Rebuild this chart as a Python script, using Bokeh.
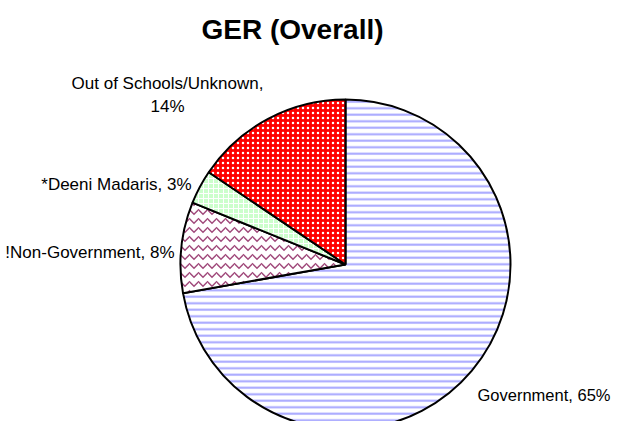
import numpy as np
from bokeh.plotting import figure
from bokeh.models import Range1d, Label
from bokeh.embed import file_html
from bokeh.resources import INLINE

# ---- data ----
categories = ["Government", "!Non-Government", "*Deeni Madaris", "Out of Schools/Unknown"]
values = [65, 8, 3, 14]
label_lines = [["Government, 65%"], ["!Non-Government, 8%"], ["*Deeni Madaris, 3%"],
               ["Out of Schools/Unknown,", "14%"]]
title_text = "GER (Overall)"

# ---- styles ----
fill_colors = ["#ffffff", "#ffffff", "#ccffcc", "#ff0000"]
hatch_patterns = ["horizontal_line", "horizontal_wave", "cross", "dot"]
hatch_colors = ["#a4a4ff", "#a0487a", "#ffffff", "#ffffff"]
hatch_scales = [6.5, 9, 5, 5]
hatch_weights = [2, 1.5, 1.0, 1.5]

W, H = 614, 421
FONT = "Liberation Sans"

def X(px):
    return px - 8

def Y(py):
    return H + 8 - py

p = figure(width=W, height=H, output_backend="svg", toolbar_location=None,
           x_range=Range1d(0, W), y_range=Range1d(0, H),
           min_border=0, outline_line_color=None)
p.axis.visible = False
p.grid.visible = False
p.frame_width = W
p.frame_height = H

cx, cy, r = X(353), Y(272), 165

vals = np.array(values, dtype=float)
frac = vals / vals.sum()
cum = np.concatenate([[0], np.cumsum(frac)]) * 2 * np.pi
for i in range(len(values)):
    start = np.pi / 2 - cum[i + 1]
    end = np.pi / 2 - cum[i]
    p.wedge(x=cx, y=cy, radius=r, start_angle=start, end_angle=end,
            fill_color=fill_colors[i], hatch_pattern=hatch_patterns[i],
            hatch_color=hatch_colors[i], hatch_scale=hatch_scales[i],
            hatch_weight=hatch_weights[i],
            line_color="black", line_width=2)

p.add_layout(Label(x=X(300), y=Y(37), text=title_text, text_font=FONT,
                   text_font_style="bold", text_font_size="28px",
                   text_align="center", text_baseline="alphabetic", text_color="black"))

# (x, first baseline, align, font size)
label_pos = [
    (X(485), 402, "left", "16.5px"),
    (X(182), 260, "right", "17px"),
    (X(199), 192, "right", "17px"),
    (X(175), 91, "center", "17px"),
]
for (lx, by, al, fs), lines in zip(label_pos, label_lines):
    for k, t in enumerate(lines):
        p.add_layout(Label(x=lx, y=Y(by + 23 * k), text=t, text_font=FONT,
                           text_font_size=fs, text_align=al,
                           text_baseline="alphabetic", text_color="black"))

open("out.html", "w").write(file_html(p, INLINE))
